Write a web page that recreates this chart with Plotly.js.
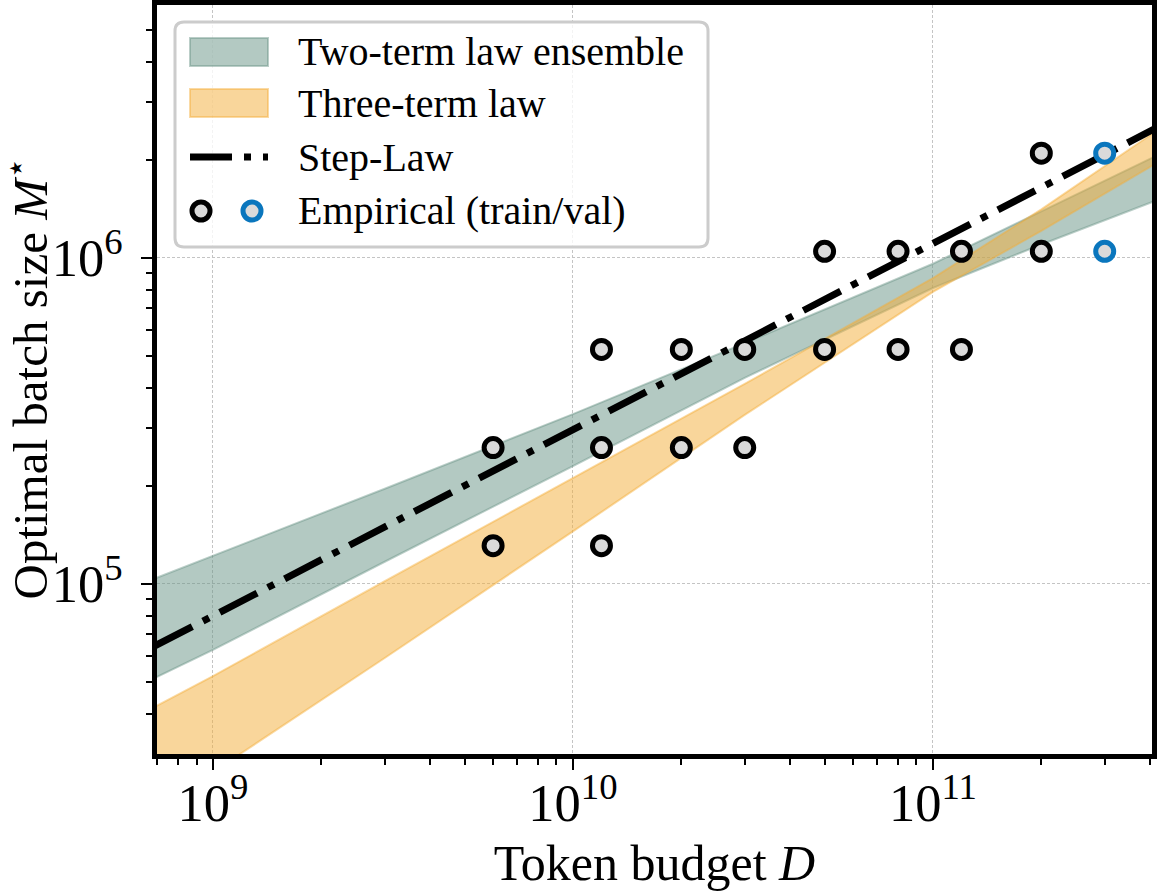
<!DOCTYPE html>
<html>
<head>
<meta charset="utf-8">
<script src="https://cdn.plot.ly/plotly-3.0.1.min.js"></script>
<style>
  html, body { margin: 0; padding: 0; background: #ffffff; }
  #chart { width: 1157px; height: 891px; }
</style>
</head>
<body>
<div id="chart"></div>
<script>
// ---------------- DATA ----------------
// Empirical optimal batch sizes (tokens) per token budget D
const trainD = [6e9, 6e9, 1.2e10, 1.2e10, 1.2e10, 2e10, 2e10, 3e10, 3e10, 5e10, 5e10, 8e10, 8e10, 1.2e11, 1.2e11, 2e11, 2e11];
const trainM = [262144, 131072, 524288, 262144, 131072, 524288, 262144, 524288, 262144, 1048576, 524288, 1048576, 524288, 1048576, 524288, 2097152, 1048576];
const valD = [3e11, 3e11];
const valM = [2097152, 1048576];

// Band envelopes sampled along D
const bandD = [6.9e8, 1e9, 3e9, 1e10, 3e10, 1e11, 2e11, 4.1e11];
const twoTermUpper = [1.04e5, 1.22e5, 1.96e5, 3.32e5, 5.48e5, 9.6e5, 1.39e6, 2.04e6];
const twoTermLower = [5.15e4, 6.28e4, 1.17e5, 2.30e5, 4.29e5, 8.09e5, 1.10e6, 1.49e6];
const threeTermUpper = [4.2e4, 5.22e4, 1.02e5, 2.12e5, 4.11e5, 8.68e5, 1.41e6, 2.42e6];
const threeTermLower = [2.04e4, 2.65e4, 5.93e4, 1.45e5, 3.30e5, 7.87e5, 1.21e6, 1.93e6];

// Step-Law line endpoints
const stepD = [6.9e8, 4.1e11];
const stepM = [6.46e4, 2.48e6];

// Labels
const legendLabels = ["Two-term law ensemble", "Three-term law", "Step-Law", "Empirical (train/val)"];
const xTitle = "Token budget <i>D</i>";
const yTitle = "Optimal batch size <i>M</i><sup>⋆</sup>";

// ---------------- STYLE ----------------
const FONT = "Liberation Serif, Times New Roman, serif";
const GREEN_FILL = "rgba(104,147,134,0.5)";
const GREEN_EDGE = "rgba(104,147,134,0.45)";
const ORANGE_FILL = "rgba(243,173,55,0.5)";
const ORANGE_EDGE = "rgba(243,173,55,0.45)";
const MARKER_FILL = "#dadada";
const BLUE = "#0a76bd";
const STEP_DASH = "42px,12px,7px,12px";

const W = 1157, H = 891;
const M = { l: 157, r: 5, t: 5, b: 137 };
const PW = W - M.l - M.r, PH = H - M.t - M.b;
const px = x => (x - M.l) / PW;          // pixel -> paper x
const py = y => (H - M.b - y) / PH;      // pixel -> paper y

// ---------------- TRACES ----------------
const traces = [
  { x: bandD, y: twoTermLower, type: "scatter", mode: "lines",
    line: { color: GREEN_EDGE, width: 2 }, hoverinfo: "skip", showlegend: false },
  { x: bandD, y: twoTermUpper, type: "scatter", mode: "lines", fill: "tonexty",
    fillcolor: GREEN_FILL, line: { color: GREEN_EDGE, width: 2 }, name: legendLabels[0], showlegend: false },
  { x: bandD, y: threeTermLower, type: "scatter", mode: "lines",
    line: { color: ORANGE_EDGE, width: 2 }, hoverinfo: "skip", showlegend: false },
  { x: bandD, y: threeTermUpper, type: "scatter", mode: "lines", fill: "tonexty",
    fillcolor: ORANGE_FILL, line: { color: ORANGE_EDGE, width: 2 }, name: legendLabels[1], showlegend: false },
  { x: stepD, y: stepM, type: "scatter", mode: "lines",
    line: { color: "#000000", width: 7, dash: STEP_DASH }, name: legendLabels[2], showlegend: false },
  { x: trainD, y: trainM, type: "scatter", mode: "markers",
    marker: { size: 18, color: MARKER_FILL, line: { color: "#000000", width: 5 } },
    name: "train", showlegend: false },
  { x: valD, y: valM, type: "scatter", mode: "markers",
    marker: { size: 18, color: MARKER_FILL, line: { color: BLUE, width: 5 } },
    name: "val", showlegend: false }
];

// ---------------- MANUAL LEGEND ----------------
function roundRectPath(x0, y0, x1, y1, r) {
  const rx = r / PW, ry = r / PH;
  const X0 = px(x0), X1 = px(x1), Y0 = py(y0), Y1 = py(y1);
  return `M ${X0 + rx} ${Y0} L ${X1 - rx} ${Y0} Q ${X1} ${Y0} ${X1} ${Y0 - ry} ` +
         `L ${X1} ${Y1 + ry} Q ${X1} ${Y1} ${X1 - rx} ${Y1} ` +
         `L ${X0 + rx} ${Y1} Q ${X0} ${Y1} ${X0} ${Y1 + ry} ` +
         `L ${X0} ${Y0 - ry} Q ${X0} ${Y0} ${X0 + rx} ${Y0} Z`;
}

const rowY = [52, 103, 157, 211];
const shapes = [
  { type: "path", xref: "paper", yref: "paper", layer: "above",
    path: roundRectPath(175, 22, 708, 247, 9),
    fillcolor: "rgba(255,255,255,0.8)", line: { color: "#cccccc", width: 3 } },
  { type: "rect", xref: "paper", yref: "paper", layer: "above",
    x0: px(190), x1: px(268), y0: py(rowY[0] - 14), y1: py(rowY[0] + 14),
    fillcolor: GREEN_FILL, line: { color: GREEN_EDGE, width: 2 } },
  { type: "rect", xref: "paper", yref: "paper", layer: "above",
    x0: px(190), x1: px(268), y0: py(rowY[1] - 14), y1: py(rowY[1] + 14),
    fillcolor: ORANGE_FILL, line: { color: ORANGE_EDGE, width: 2 } },
  { type: "line", xref: "paper", yref: "paper", layer: "above",
    x0: px(190), x1: px(268), y0: py(rowY[2]), y1: py(rowY[2]),
    line: { color: "#000000", width: 7, dash: STEP_DASH } },
  { type: "circle", xref: "paper", yref: "paper", layer: "above",
    xsizemode: "pixel", ysizemode: "pixel", xanchor: px(201), yanchor: py(rowY[3]),
    x0: -9, x1: 9, y0: -9, y1: 9,
    fillcolor: MARKER_FILL, line: { color: "#000000", width: 5 } },
  { type: "circle", xref: "paper", yref: "paper", layer: "above",
    xsizemode: "pixel", ysizemode: "pixel", xanchor: px(252), yanchor: py(rowY[3]),
    x0: -9, x1: 9, y0: -9, y1: 9,
    fillcolor: MARKER_FILL, line: { color: BLUE, width: 5 } }
];

const annotations = legendLabels.map((t, i) => ({
  xref: "paper", yref: "paper", x: px(296), y: py(rowY[i]),
  xanchor: "left", yanchor: "middle", showarrow: false, text: t,
  font: { family: FONT, size: 40, color: "#000000" }
}));
// y-axis title, placed left of the tick labels
annotations.push({
  xref: "paper", yref: "paper", x: px(27), y: 0.5,
  xanchor: "center", yanchor: "middle", textangle: -90, showarrow: false,
  text: yTitle, font: { family: FONT, size: 49, color: "#000000" }
});

// ---------------- LAYOUT ----------------
const axisCommon = {
  type: "log",
  dtick: 1,
  exponentformat: "power",
  showexponent: "all",
  showline: true, linecolor: "#000000", linewidth: 5, mirror: true,
  ticks: "outside", ticklen: 11, tickwidth: 2.5, tickcolor: "#000000",
  minor: { ticks: "outside", ticklen: 6, tickwidth: 2, tickcolor: "#000000", dtick: "D1", showgrid: false },
  showgrid: true, gridcolor: "#c4c4c4", gridwidth: 1, griddash: "3px,2px",
  zeroline: false,
  tickfont: { family: FONT, size: 42, color: "#000000" },
  automargin: false
};

const layout = {
  width: W, height: H,
  margin: M,
  paper_bgcolor: "#ffffff", plot_bgcolor: "#ffffff",
  showlegend: false,
  xaxis: Object.assign({}, axisCommon, {
    range: [Math.log10(6.99e8), Math.log10(4.06e11)],
    ticklabelstandoff: -10,
    title: { text: xTitle, font: { family: FONT, size: 50, color: "#000000" }, standoff: 18 }
  }),
  yaxis: Object.assign({}, axisCommon, {
    range: [4.4785, 6.776],
    ticklabelstandoff: 10
  }),
  shapes: shapes,
  annotations: annotations
};

Plotly.newPlot("chart", traces, layout, { staticPlot: true, displayModeBar: false });
</script>
</body>
</html>
